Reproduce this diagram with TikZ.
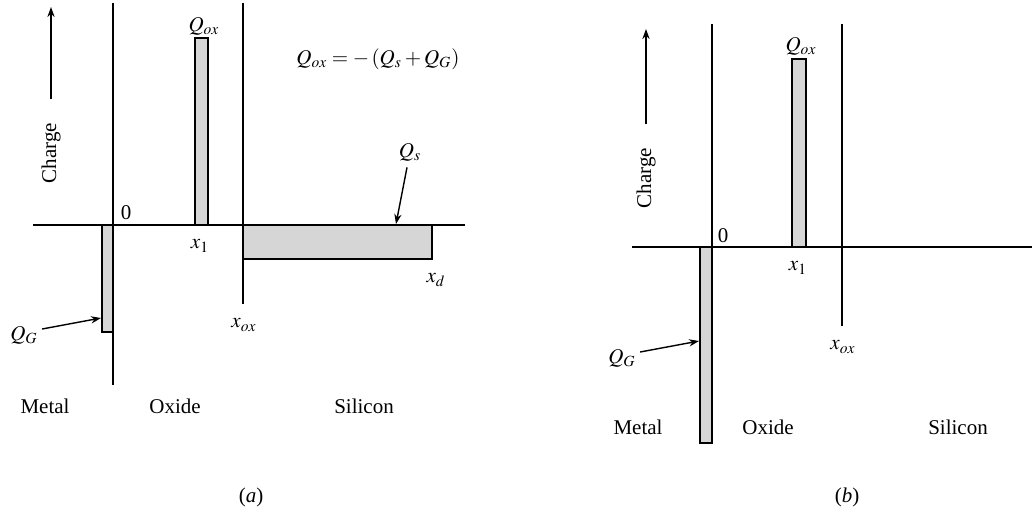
\documentclass[tikz,border=0pt]{standalone}
\usepackage{mathptmx}
\usepackage{fontspec}
\setmainfont{Liberation Serif}
\usetikzlibrary{arrows.meta}

\begin{document}
\begin{tikzpicture}[
  x=0.5pt, y=-0.5pt,
  font=\fontsize{10.5}{12.6}\selectfont,
  ln/.style={line width=0.75pt},
  chg/.style={draw, line width=0.75pt, fill=gray!32},
  arr/.style={-{Stealth[length=5pt, width=3.6pt]}, line width=0.7pt},
  lbl/.style={inner sep=1pt}
]
  \useasboundingbox (0,0) rectangle (1032,516);

  % (a) charge distribution
  \draw[chg] (102,225) rectangle (113,332);
  \draw[chg] (195,38) rectangle (208,225);
  \draw[chg] (243,225) rectangle (432,259);
  \draw[ln] (33,225) -- (465,225);
  \draw[ln] (113,3) -- (113,385);
  \draw[ln] (243,3) -- (243,304);

  \coordinate (chgAlo) at (51,99);
  \coordinate (chgAhi) at (51,7);
  \draw[arr] (chgAlo) -- (chgAhi);
  \node[lbl, rotate=90] (chgA) at (51,153) {Charge};

  \node[lbl] (zeroA) at (126,213) {0};
  \node[lbl] (qoxA) at (204,26) {$Q_{ox}$};
  \node[lbl] (eqA) at (378,59) {$Q_{ox}=-\,(Q_s+Q_G)$};
  \node[lbl] (qsA) at (410,152) {$Q_s$};
  \coordinate (qsAtip) at (396,224);
  \draw[arr] (qsA.south) ++(-3,4) coordinate (qsAtail) (qsAtail) -- (qsAtip);
  \node[lbl] (x1A) at (200,246) {$x_1$};
  \node[lbl] (xdA) at (436,280) {$x_d$};
  \node[lbl] (xoxA) at (244,325) {$x_{ox}$};
  \node[lbl] (qgA) at (24,335) {$Q_G$};
  \coordinate (qgAtip) at (101,318);
  \draw[arr] (qgA.east) ++(2,-6) coordinate (qgAtail) (qgAtail) -- (qgAtip);

  \node[lbl] (metA) at (45,406) {Metal};
  \node[lbl] (oxA) at (175,406) {Oxide};
  \node[lbl] (siA) at (364,406) {Silicon};
  \node[lbl] (capA) at (251,497) {(\textit{a})};

  % (b) charge distribution
  \draw[chg] (700,247) rectangle (712,443);
  \draw[chg] (792,59) rectangle (806,247);
  \draw[ln] (632,247) -- (1032,247);
  \draw[ln] (712,24) -- (712,247);
  \draw[ln] (842,24) -- (842,326);

  \coordinate (chgBlo) at (646,124);
  \coordinate (chgBhi) at (646,29);
  \draw[arr] (chgBlo) -- (chgBhi);
  \node[lbl, rotate=90] (chgB) at (646,178) {Charge};

  \node[lbl] (zeroB) at (723,236) {0};
  \node[lbl] (qoxB) at (801,46) {$Q_{ox}$};
  \node[lbl] (x1B) at (798,268) {$x_1$};
  \node[lbl] (xoxB) at (843,347) {$x_{ox}$};
  \node[lbl] (qgB) at (622,358) {$Q_G$};
  \coordinate (qgBtip) at (699,341);
  \draw[arr] (qgB.east) ++(2,-6) coordinate (qgBtail) (qgBtail) -- (qgBtip);

  \node[lbl] (metB) at (638,427) {Metal};
  \node[lbl] (oxB) at (768,427) {Oxide};
  \node[lbl] (siB) at (958,427) {Silicon};
  \node[lbl] (capB) at (847,497) {(\textit{b})};
\end{tikzpicture}
\end{document}
